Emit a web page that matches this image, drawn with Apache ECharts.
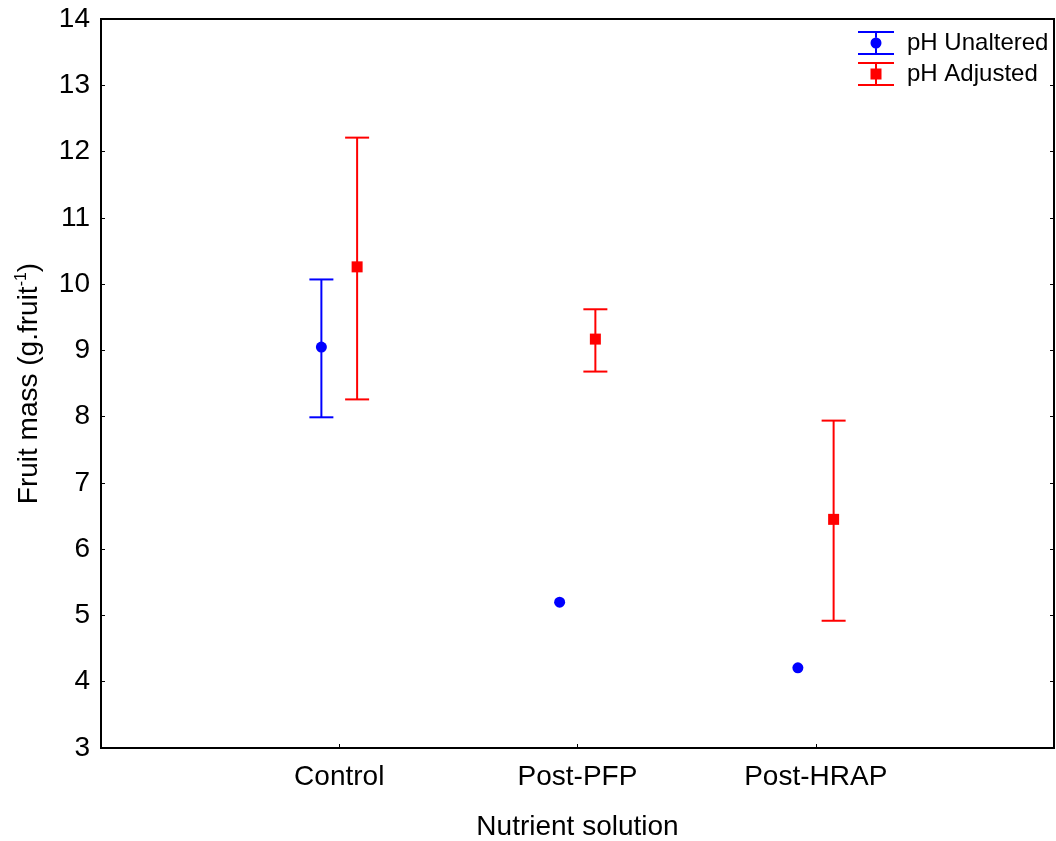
<!DOCTYPE html>
<html>
<head>
<meta charset="utf-8">
<script src="https://cdn.jsdelivr.net/npm/echarts@6/dist/echarts.min.js"></script>
<style>
html,body{margin:0;padding:0;background:#fff;}
#chart{width:1056px;height:841px;}
</style>
</head>
<body>
<div id="chart"></div>
<script>
// ---- data ----
const categories = ['Control', 'Post-PFP', 'Post-HRAP'];
const seriesNames = ['pH Unaltered', 'pH Adjusted'];
const unalteredMean = [9.05, 5.20, 4.21];
const unalteredLow  = [7.99, null, null];
const unalteredHigh = [10.07, null, null];
const adjustedMean  = [10.26, 9.17, 6.45];
const adjustedLow   = [8.26, 8.68, 4.92];
const adjustedHigh  = [12.21, 9.62, 7.94];
const yTicks = [3, 4, 5, 6, 7, 8, 9, 10, 11, 12, 13, 14];

// ---- layout / style constants ----
const OFFSET = 0.075;
const BLUE = '#0000FF', RED = '#FF0000';
const FONT = "'Liberation Sans', Arial, sans-serif";

function pts(means, off) {
  return means.map((v, i) => [i + 1 + off, v]);
}
function errs(lows, highs, off) {
  const out = [];
  lows.forEach((lo, i) => {
    if (lo != null && highs[i] != null) out.push([i + 1 + off, lo, highs[i]]);
  });
  return out;
}
function errRender(color) {
  return function (params, api) {
    const x = api.value(0), lo = api.value(1), hi = api.value(2);
    const a = api.coord([x, hi]), b = api.coord([x, lo]);
    const h = 12;
    const st = { stroke: color, lineWidth: 2, fill: null };
    return {
      type: 'group',
      children: [
        { type: 'line', shape: { x1: a[0], y1: a[1], x2: b[0], y2: b[1] }, style: st },
        { type: 'line', shape: { x1: a[0] - h, y1: a[1], x2: a[0] + h, y2: a[1] }, style: st },
        { type: 'line', shape: { x1: b[0] - h, y1: b[1], x2: b[0] + h, y2: b[1] }, style: st }
      ]
    };
  };
}

const iconCircle = 'path://M0 0H36V2H0Z M0 22H36V24H0Z M17 2H19V6.5H17Z M17 17.5H19V22H17Z M23.5 12A5.5 5.5 0 1 1 12.5 12A5.5 5.5 0 1 1 23.5 12Z';
const iconSquare = 'path://M0 0H36V2H0Z M0 22H36V24H0Z M17 2H19V6.5H17Z M17 17.5H19V22H17Z M12.5 6.5H23.5V17.5H12.5Z';

const chart = echarts.init(document.getElementById('chart'), null, { renderer: 'canvas' });
chart.setOption({
  animation: false,
  backgroundColor: '#fff',
  textStyle: { fontFamily: FONT, color: '#000' },
  grid: {
    left: 101, right: 2, top: 19, bottom: 93,
    outerBoundsMode: 'none',
    containLabel: false,
    show: true, borderColor: '#000', borderWidth: 2, backgroundColor: 'transparent'
  },
  legend: {
    orient: 'vertical',
    left: 858, top: 31, padding: 0,
    itemWidth: 36, itemHeight: 24, itemGap: 7,
    selectedMode: false,
    textStyle: { fontFamily: FONT, fontSize: 24, color: '#000', padding: [0, 0, 0, 8] },
    data: [
      { name: seriesNames[0], icon: iconCircle, itemStyle: { color: BLUE } },
      { name: seriesNames[1], icon: iconSquare, itemStyle: { color: RED } }
    ]
  },
  xAxis: {
    type: 'value',
    min: 0, max: 4, interval: 1,
    splitLine: { show: false },
    axisLine: { show: true, onZero: false, lineStyle: { color: '#000', width: 2 } },
    axisTick: { show: true, inside: true, length: 4, lineStyle: { color: '#000', width: 1 } },
    axisLabel: {
      fontSize: 28, color: '#000', fontFamily: FONT, margin: 15,
      formatter: v => (v >= 1 && v <= categories.length && Number.isInteger(v)) ? categories[v - 1] : ''
    },
    name: 'Nutrient solution',
    nameLocation: 'middle',
    nameGap: 65,
    nameTextStyle: { fontSize: 28, color: '#000', fontFamily: FONT }
  },
  yAxis: [{
    type: 'value',
    min: yTicks[0], max: yTicks[yTicks.length - 1], interval: 1,
    splitLine: { show: false },
    axisLine: { show: true, onZero: false, lineStyle: { color: '#000', width: 2 } },
    axisTick: { show: true, inside: true, length: 4, lineStyle: { color: '#000', width: 1 } },
    axisLabel: { fontSize: 28, color: '#000', fontFamily: FONT, margin: 11 },
    name: '{a|Fruit mass (g.fruit}{s|-1}{a|)}',
    nameLocation: 'middle',
    nameGap: 57,
    nameTextStyle: {
      fontSize: 28, color: '#000', fontFamily: FONT,
      rich: {
        a: { fontSize: 28, fontFamily: FONT, color: '#000' },
        s: { fontSize: 16, fontFamily: FONT, color: '#000', verticalAlign: 'top', padding: [0, 0, 14, 0] }
      }
    }
  }, {
    type: 'value',
    position: 'right',
    min: yTicks[0], max: yTicks[yTicks.length - 1], interval: 1,
    splitLine: { show: false },
    axisLine: { show: true, onZero: false, lineStyle: { color: '#000', width: 2 } },
    axisTick: { show: true, inside: true, length: 4, lineStyle: { color: '#000', width: 1 } },
    axisLabel: { show: false }
  }],
  series: [
    {
      name: seriesNames[0], type: 'custom', z: 2,
      renderItem: errRender(BLUE),
      encode: { x: 0, y: [1, 2] },
      data: errs(unalteredLow, unalteredHigh, -OFFSET)
    },
    {
      name: seriesNames[1], type: 'custom', z: 2,
      renderItem: errRender(RED),
      encode: { x: 0, y: [1, 2] },
      data: errs(adjustedLow, adjustedHigh, OFFSET)
    },
    {
      name: seriesNames[0], type: 'scatter', z: 3,
      symbol: 'circle', symbolSize: 11,
      itemStyle: { color: BLUE, opacity: 1 },
      data: pts(unalteredMean, -OFFSET)
    },
    {
      name: seriesNames[1], type: 'scatter', z: 3,
      symbol: 'rect', symbolSize: 11,
      itemStyle: { color: RED, opacity: 1 },
      data: pts(adjustedMean, OFFSET)
    }
  ]
});
</script>
</body>
</html>
